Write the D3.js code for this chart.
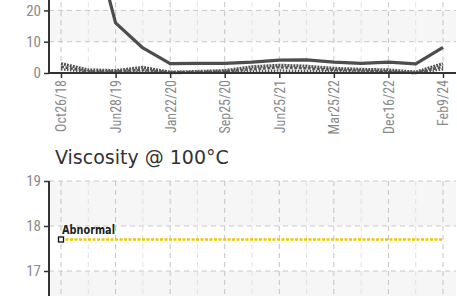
<!DOCTYPE html>
<html>
<head>
<meta charset="utf-8">
<script src="https://cdn.jsdelivr.net/npm/d3@7/dist/d3.min.js"></script>
<style>
  html, body { margin: 0; padding: 0; background: #fff; }
  svg { display: block; }
  .tick-label { font-family: "Roboto Condensed", "DejaVu Sans Condensed", "Roboto", sans-serif; font-stretch: condensed; fill: #8a8a8a; }
</style>
</head>
<body>
<svg id="chart" width="457" height="296"></svg>
<script>
// ---- data ----
const dates = ["Oct26/18","Feb14/19","Jun28/19","Oct10/19","Jan22/20","May20/20","Sep25/20","Feb5/21",
               "Jun25/21","Nov3/21","Mar25/22","Aug12/22","Dec16/22","Jul14/23","Feb9/24"];
const labelEvery = 2;
const mainSeries = [45, 49, 16, 8, 3, 3.1, 3.1, 3.5, 4.1, 4.2, 3.5, 3.1, 3.5, 2.9, 8.2];
const seriesA    = [3, 1, 0.8, 1.8, 0.3, 0.5, 0.8, 2, 2.5, 2.2, 1.5, 1.2, 1, 0.3, 3];
const seriesB    = [2, 0.5, 0.5, 1, 0.2, 0.3, 0.5, 1.2, 1.8, 1.5, 1, 0.8, 0.5, 0, 2];
const seriesC    = [1.2, 0.3, 0.2, 0.5, 0, 0.1, 0.2, 0.5, 0.8, 0.6, 0.5, 0.4, 0.2, 0, 1.2];
const topTicks = [0, 10, 20];
const viscTitle = "Viscosity @ 100°C";
const abnormalLabel = "Abnormal";
const abnormalLimit = dates.map(() => 17.7);
const bottomTicks = [17, 18, 19];

// ---- layout ----
const svg = d3.select("#chart");
const xLeft = 49, xRight = 456;
const x = d3.scalePoint().domain(dates).range([61, 443]);

const yTop = d3.scaleLinear().domain([0, 60]).range([73, 73 - 60 * 3.13]);
const yBot = d3.scaleLinear().domain([16, 19]).range([316, 181]);

function drawPanel(g, y, ticks, grayOdd, yMinPix, yMaxPix, extraBandBelow) {
  const bt = extraBandBelow ? [ticks[0] - (ticks[1] - ticks[0])].concat(ticks) : ticks;
  for (let i = 0; i < bt.length - 1; i++) {
    const a = bt[i], b = bt[i + 1];
    const gray = (i % 2 === 1) === grayOdd;
    if (gray) {
      g.append("rect").attr("x", xLeft).attr("width", xRight - xLeft)
        .attr("y", y(b)).attr("height", y(a) - y(b)).attr("fill", "#f6f6f6");
    }
  }
  g.selectAll(null).data(ticks).enter().append("line")
    .attr("x1", xLeft).attr("x2", xRight)
    .attr("y1", d => y(d)).attr("y2", d => y(d))
    .attr("stroke", "#c8c8c8").attr("stroke-dasharray", "5,4").attr("stroke-width", 1);
  g.selectAll(null).data(dates).enter().append("line")
    .attr("x1", d => x(d)).attr("x2", d => x(d))
    .attr("y1", yMinPix).attr("y2", yMaxPix)
    .attr("stroke", (d, i) => i % labelEvery === 0 ? "#c4c4c4" : "#e2e2e2")
    .attr("stroke-dasharray", "5,4").attr("stroke-width", 1);
  const ax = g.append("g").attr("transform", `translate(${xLeft},0)`)
    .call(d3.axisLeft(y).tickValues(ticks).tickFormat(d3.format("d")).tickSize(5).tickSizeOuter(0).tickPadding(3));
  ax.select(".domain").attr("d", `M0,${yMinPix}V${yMaxPix}`).attr("stroke", "#333").attr("stroke-width", 2);
  ax.selectAll(".tick line").attr("stroke", "#333").attr("stroke-width", 1.5);
  ax.selectAll(".tick text").attr("class", "tick-label").attr("font-size", 15).attr("fill", "#8a8a8a");
}

// ---- top chart ----
const gTop = svg.append("g");
drawPanel(gTop, yTop, topTicks, true, yTop(60), 73, false);

const line = d3.line().x((d, i) => x(dates[i])).y(d => yTop(d));
const sec = [
  {data: seriesC, dash: "1.5,1.5", w: 2.5},
  {data: seriesB, dash: "3,1.5", w: 2.5},
  {data: seriesA, dash: "2,1", w: 3}
];
sec.forEach(s => {
  gTop.append("path").datum(s.data).attr("d", line)
    .attr("fill", "none").attr("stroke", "#555").attr("stroke-width", s.w)
    .attr("stroke-dasharray", s.dash);
});
gTop.append("path").datum(mainSeries).attr("d", line)
  .attr("fill", "none").attr("stroke", "#4d4d4d").attr("stroke-width", 3.2)
  .attr("stroke-linejoin", "round");

const xAx = gTop.append("g").attr("transform", "translate(0,73)")
  .call(d3.axisBottom(x).tickValues(dates.filter((d, i) => i % labelEvery === 0)).tickSize(5).tickSizeOuter(0));
xAx.select(".domain").attr("d", `M${xLeft},0H${xRight}`).attr("stroke", "#333").attr("stroke-width", 2);
xAx.selectAll(".tick line").attr("stroke", "#333").attr("stroke-width", 1.5);
xAx.selectAll(".tick text").attr("class", "tick-label").attr("font-size", 14).attr("fill", "#8a8a8a")
  .attr("transform", "rotate(-90)").attr("text-anchor", "end")
  .attr("x", -7).attr("y", 0).attr("dy", "0.35em");

// ---- bottom chart ----
const title = svg.append("text").attr("x", 55).attr("y", 164)
  .attr("font-family", "'DejaVu Sans', Verdana, sans-serif").attr("font-size", 18)
  .attr("fill", "#333").text(viscTitle);
const tl = title.node().getComputedTextLength();
title.attr("font-size", 18 * 174 / tl);

const gBot = svg.append("g");
drawPanel(gBot, yBot, bottomTicks, false, 181, 316, true);

const lineB = d3.line().x((d, i) => x(dates[i])).y(d => yBot(d));
gBot.append("path").datum(abnormalLimit).attr("d", lineB)
  .attr("fill", "none").attr("stroke", "#f5c300").attr("stroke-width", 2.6)
  .attr("stroke-dasharray", "3,1.5");
gBot.append("rect")
  .attr("x", x(dates[0]) - 2.5).attr("y", yBot(abnormalLimit[0]) - 2.5)
  .attr("width", 5).attr("height", 5)
  .attr("fill", "#fff").attr("stroke", "#111").attr("stroke-width", 1.3);
const ab = gBot.append("text").attr("x", x(dates[0]) + 1).attr("y", yBot(abnormalLimit[0]) - 6)
  .attr("font-family", "'DejaVu Sans', Verdana, sans-serif").attr("font-size", 11.5)
  .attr("font-weight", "bold").attr("fill", "#222").text(abnormalLabel);
ab.attr("textLength", 53).attr("lengthAdjust", "spacingAndGlyphs");
</script>
</body>
</html>
